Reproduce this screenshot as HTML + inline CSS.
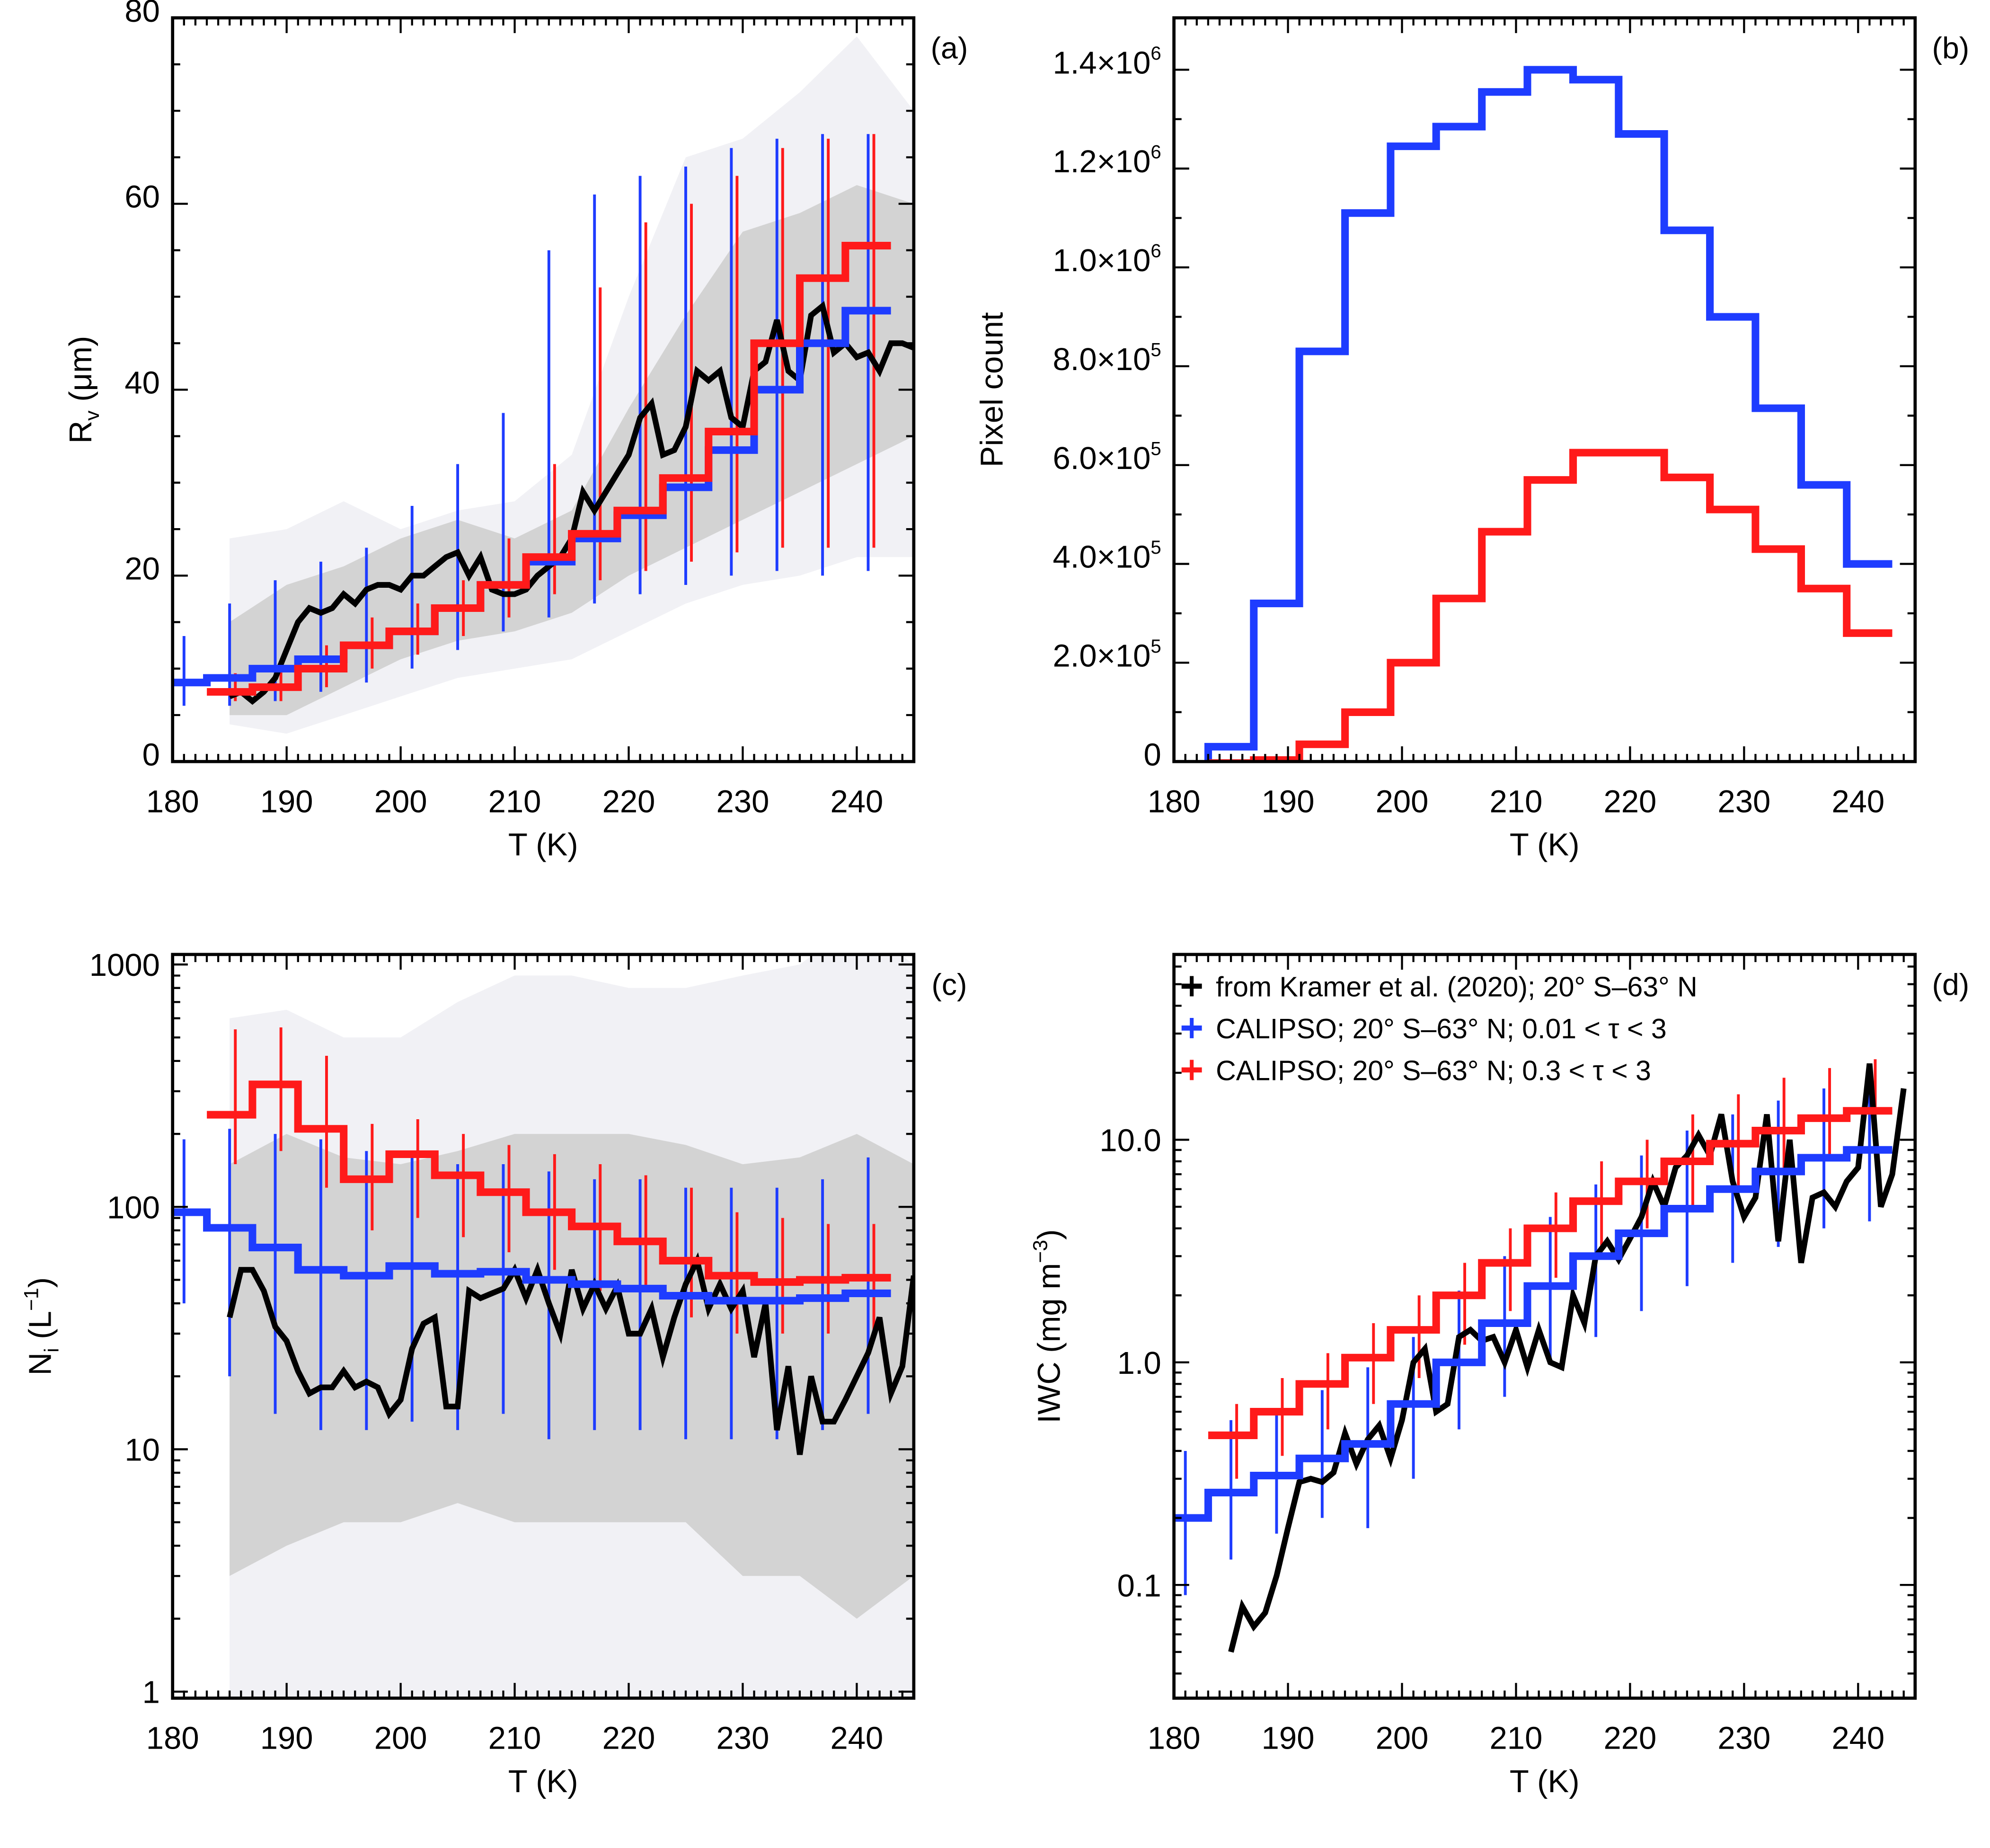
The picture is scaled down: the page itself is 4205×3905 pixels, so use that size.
<!DOCTYPE html>
<html><head><meta charset="utf-8">
<style>
html,body{margin:0;padding:0;background:#fff;}
svg{display:block;}
text{font-family:"Liberation Sans",sans-serif;fill:#000;}
</style></head>
<body>
<svg id="fig" width="4205" height="3905" viewBox="0 0 1568 1456" xmlns="http://www.w3.org/2000/svg">
<rect x="0" y="0" width="1568" height="1456" fill="#fff"/>
</svg>
<script>
// ---------- DATA ----------
const binT = [181,185,189,193,197,201,205,209,213,217,221,225,229,233,237,241];
const lineT = [];
for (let t = 185; t <= 245; t++) lineT.push(t);
const bandT = [185,190,195,200,205,210,215,220,225,230,235,240,245];

// Panel a
const aBlue = [8.5,9,10,11,12.5,14,16.5,19,21.5,24,26.5,29.5,33.5,40,45,48.5];
const aBlueLo = [6,6,6.5,7.5,8.5,10,12,14,15.5,17,18,19,20,20.5,20,20.5];
const aBlueHi = [13.5,17,19.5,21.5,23,27.5,32,37.5,55,61,63,64,66,67,67.5,67.5];
const aRed = [null,7.5,8,10,12.5,14,16.5,19,22,24.5,27,30.5,35.5,45,52,55.5];
const aRedLo = [null,6.5,6.5,8,10,11.5,13.5,15.5,18,19.5,20.5,21.5,22.5,23,23,23];
const aRedHi = [null,9.5,10.5,12.5,15.5,17,19.5,24,32,51,58,60,63,66,67,67.5];
const aBlack = [7,7.5,6.5,7.5,9,12,15,16.5,16,16.5,18,17,18.5,19,19,18.5,20,20,21,22,22.5,20,22,18.5,18,18,18.5,20,21,22,24,29,27,29,31,33,37,38.5,33,33.5,36,42,41,42,37,36,42,43,47.5,42,41,48,49,44,45,43.5,44,42,45,45,44.5];
const aOutLo = [4,3,5,7,9,10,11,14,17,19,20,22,22];
const aOutHi = [24,25,28,25,27,28,33,50,65,67,72,78,70];
const aInLo = [5,5,8,11,13,14,16,20,23,26,29,32,35];
const aInHi = [15,19,21,24,26,24,27,38,48,57,59,62,60];

// Panel b
const bBlue = [-5000,30000,320000,830000,1110000,1245000,1285000,1355000,1400000,1380000,1270000,1075000,900000,715000,560000,400000];
const bRed = [null,-3000,3000,35000,100000,200000,330000,465000,570000,625000,625000,575000,510000,430000,350000,260000];

// Panel c
const cBlue = [95,82,68,55,52,57,53,54,50,48,46,43,41,41,42,44];
const cBlueLo = [40,20,14,12,12,13,12,14,11,12,12,11,11,11,12,14];
const cBlueHi = [190,210,200,190,170,170,150,150,140,130,130,120,120,120,130,160];
const cRed = [null,240,320,210,130,165,135,115,95,83,72,60,52,49,50,51];
const cRedLo = [null,150,170,120,80,90,75,65,55,45,45,35,30,30,30,30];
const cRedHi = [null,540,550,420,220,230,200,180,165,150,135,120,95,90,85,85];
const cBlack = [35,55,55,45,32,28,21,17,18,18,21,18,19,18,14,16,26,33,35,15,15,45,42,44,46,55,42,55,40,30,55,38,48,38,47,30,30,38,24,35,48,60,38,48,38,45,24,40,12,22,9.5,20,13,13,16,20,25,35,17,22,52];
const cOutLo = [0.5,0.6,0.8,0.9,0.9,0.9,0.9,0.9,0.8,0.6,0.5,0.5,0.5];
const cOutHi = [600,650,500,500,700,900,900,800,800,900,1000,1500,1000];
const cInLo = [3,4,5,5,6,5,5,5,5,3,3,2,3];
const cInHi = [150,200,160,150,170,200,200,200,180,150,160,200,150];

// Panel d
const dBlue = [0.2,0.26,0.31,0.37,0.43,0.65,1.0,1.5,2.2,3.0,3.8,4.9,6.0,7.2,8.3,9.0];
const dBlueLo = [0.09,0.13,0.17,0.2,0.18,0.3,0.5,0.7,1.0,1.3,1.7,2.2,2.8,3.3,4.0,4.3];
const dBlueHi = [0.4,0.55,0.6,0.75,0.95,1.3,2.1,3.0,4.5,6.3,8.5,11,13,15,17,20];
const dRed = [null,0.47,0.6,0.8,1.05,1.4,2.0,2.8,4.0,5.3,6.5,8.0,9.6,11,12.5,13.5];
const dRedLo = [null,0.3,0.38,0.5,0.65,0.85,1.2,1.7,2.4,3.2,4.0,5.0,6.0,7.0,8.0,9.0];
const dRedHi = [null,0.65,0.85,1.1,1.5,2.0,2.8,4.0,5.8,8.0,10,13,16,19,21,23];
const dBlack = [0.05,0.08,0.065,0.075,0.11,0.18,0.29,0.3,0.29,0.32,0.48,0.35,0.45,0.52,0.37,0.55,1.0,1.15,0.6,0.65,1.3,1.4,1.25,1.3,1.0,1.4,0.95,1.4,1.0,0.95,2.0,1.5,3.0,3.5,2.9,3.6,4.5,6.5,5.0,7.5,8.5,10.5,8.5,13,6.5,4.5,5.5,13,3.5,10,2.8,5.5,5.8,5.0,6.5,7.5,22,5.0,7.0,17];

const aTicks = [0,20,40,60,80];
const bTicks = [0,200000,400000,600000,800000,1000000,1200000,1400000];
const bTickLabels = ['0','2.0×10^5','4.0×10^5','6.0×10^5','8.0×10^5','1.0×10^6','1.2×10^6','1.4×10^6'];
const cTicks = [1,10,100,1000];
const cTickLabels = ['1','10','100','1000'];
const dTicks = [0.1,1,10];
const dTickLabels = ['0.1','1.0','10.0'];
const xTicks = [180,190,200,210,220,230,240];

// ---------- DRAWING ----------
const NS = 'http://www.w3.org/2000/svg';
const svg = document.getElementById('fig');
function el(tag, attrs, parent) {
  const e = document.createElementNS(NS, tag);
  for (const k in attrs) e.setAttribute(k, attrs[k]);
  (parent || svg).appendChild(e);
  return e;
}
function makePanel(id, x0, y0, ylin, ymin, ymax) {
  const x1 = x0 + 584, y1 = y0 + 586;
  const X = t => x0 + (t - 180) / 65 * 584;
  let Y;
  if (ylin) Y = v => y1 - (v - ymin) / (ymax - ymin) * 586;
  else Y = v => y1 - (Math.log10(v) - Math.log10(ymin)) / (Math.log10(ymax) - Math.log10(ymin)) * 586;
  const g = el('g', {});
  
  
  const cp = el('clipPath', {id: 'clip-' + id}, g);
  el('rect', {x: x0, y: y0, width: 584, height: 586}, cp);
  const plot = el('g', {'clip-path': 'url(#clip-' + id + ')'}, g);
  
  
  return {x0, y0, x1, y1, X, Y, g, plot};
}
function band(p, lo, hi, fill, name) {
  let d = '';
  bandT.forEach((t, i) => { d += (i ? 'L' : 'M') + p.X(t).toFixed(1) + ',' + p.Y(hi[i]).toFixed(1); });
  for (let i = bandT.length - 1; i >= 0; i--) d += 'L' + p.X(bandT[i]).toFixed(1) + ',' + p.Y(lo[i]).toFixed(1);
  const e = el('path', {d: d + 'Z', fill: fill, stroke: 'none'}, p.plot);
  
  
}
function steps(p, vals, color, name, w) {
  let d = '';
  let started = false;
  binT.forEach((t, i) => {
    const v = vals[i];
    if (v === null) return;
    const xa = p.X(Math.max(180, t - 2)), xb = p.X(t + 2), y = p.Y(v);
    d += (started ? 'L' : 'M') + xa.toFixed(1) + ',' + y.toFixed(1) + 'L' + xb.toFixed(1) + ',' + y.toFixed(1);
    started = true;
  });
  const e = el('path', {d: d, fill: 'none', stroke: color, 'stroke-width': w || 6}, p.plot);
  
  
}
function errbars(p, lo, hi, color, off, name) {
  binT.forEach((t, i) => {
    if (lo[i] === null) return;
    const x = p.X(t + off);
    const e = el('line', {x1: x, x2: x, y1: p.Y(lo[i]), y2: p.Y(hi[i]), stroke: color, 'stroke-width': 2.2}, p.plot);
    
    
  });
}
function blackLine(p, vals, name) {
  const d = lineT.map((t, i) => (i ? 'L' : 'M') + p.X(t).toFixed(1) + ',' + p.Y(vals[i]).toFixed(1)).join('');
  const e = el('path', {d: d, fill: 'none', stroke: '#000', 'stroke-width': 4.5, 'stroke-linejoin': 'miter'}, p.plot);
  
  
}
function frame(p, id) {
  const r = el('rect', {x: p.x0, y: p.y0, width: 584, height: 586, fill: 'none', stroke: '#000', 'stroke-width': 2.5}, p.g);
  
  
  for (let t = 181; t <= 245; t++) {
    const x = p.X(t);
    const major = t % 10 === 0;
    const L = major ? 12 : 6;
    el('line', {x1: x, x2: x, y1: p.y1, y2: p.y1 - L, stroke: '#000', 'stroke-width': 1.6}, p.g);
    el('line', {x1: x, x2: x, y1: p.y0, y2: p.y0 + L, stroke: '#000', 'stroke-width': 1.6}, p.g);
  }
  xTicks.forEach(t => {
    const tx = el('text', {x: p.X(t), y: p.y1 + 40, 'font-size': 25, 'text-anchor': 'middle'}, p.g);
    tx.textContent = t;
    
    
  });
  const xt = el('text', {x: p.x0 + 292, y: p.y1 + 74, 'font-size': 25, 'text-anchor': 'middle'}, p.g);
  xt.textContent = 'T (K)';
  
  
  const pl = el('text', {x: p.x1 + 28, y: p.y0 + 32, 'font-size': 24, 'text-anchor': 'middle'}, p.g);
  pl.textContent = '(' + id + ')';
  
  
}
function ytick(p, y, major) {
  const L = major ? 12 : 6;
  el('line', {x1: p.x0, x2: p.x0 + L, y1: y, y2: y, stroke: '#000', 'stroke-width': 1.6}, p.g);
  el('line', {x1: p.x1, x2: p.x1 - L, y1: y, y2: y, stroke: '#000', 'stroke-width': 1.6}, p.g);
}
function ylabel(p, y, txt) {
  const t = el('text', {x: p.x0 - 10, y: y + 9, 'font-size': 25, 'text-anchor': 'end'}, p.g);
  const m = txt.match(/^(.*)\^(.*)$/);
  if (m) {
    t.textContent = m[1];
    const s = el('tspan', {dy: -11, 'font-size': 15}, t);
    s.textContent = m[2];
  } else t.textContent = txt;
  
  
}
function logTicks(p, lo, hi) {
  for (let e = Math.floor(Math.log10(lo)); e <= Math.ceil(Math.log10(hi)); e++) {
    for (let k = 1; k <= 9; k++) {
      const v = k * Math.pow(10, e);
      if (v < lo || v > hi) continue;
      ytick(p, p.Y(v), k === 1);
    }
  }
}
function ytitle(p, x, parts, name) {
  const t = el('text', {x: 0, y: 0, 'font-size': 25, 'text-anchor': 'middle', transform: 'translate(' + x + ',' + (p.y0 + 293) + ') rotate(-90)'}, p.g);
  parts.forEach(pt => {
    const s = el('tspan', pt.a || {}, t);
    s.textContent = pt.t;
  });
  
  
}

// ----- Panel a -----
const pa = makePanel('a', 136, 14, true, 0, 80);
band(pa, aOutLo, aOutHi, '#f1f1f5', 'outer-range-band');
band(pa, aInLo, aInHi, '#d3d3d3', 'inner-range-band');
errbars(pa, aBlueLo, aBlueHi, '#1e3cff', 0, 'blue-error-bar');
errbars(pa, aRedLo, aRedHi, '#ff1a1a', 0.5, 'red-error-bar');
blackLine(pa, aBlack, 'kramer-line');
steps(pa, aBlue, '#1e3cff', 'calipso-blue-steps');
steps(pa, aRed, '#ff1a1a', 'calipso-red-steps');
frame(pa, 'a');
for (let v = 5; v < 80; v += 5) ytick(pa, pa.Y(v), v % 20 === 0);
aTicks.forEach(v => ylabel(pa, pa.Y(v) - 6, String(v)));
ytitle(pa, 72, [{t: 'R'}, {t: 'v', a: {'font-size': 16, dy: 6}}, {t: ' (μm)', a: {dy: -6}}], 'y-axis-title');

// ----- Panel b -----
const pb = makePanel('b', 925, 14, true, 0, 1505000);
steps(pb, bBlue, '#1e3cff', 'blue-histogram');
steps(pb, bRed, '#ff1a1a', 'red-histogram');
frame(pb, 'b');
for (let v = 100000; v < 1500000; v += 100000) ytick(pb, pb.Y(v), v % 200000 === 0);
bTicks.forEach((v, i) => ylabel(pb, pb.Y(v) - 6, bTickLabels[i]));
ytitle(pb, 790, [{t: 'Pixel count'}], 'y-axis-title');

// ----- Panel c -----
const pc = makePanel('c', 136, 752, false, 0.94, 1100);
band(pc, cOutLo, cOutHi, '#f1f1f5', 'outer-range-band');
band(pc, cInLo, cInHi, '#d3d3d3', 'inner-range-band');
errbars(pc, cBlueLo, cBlueHi, '#1e3cff', 0, 'blue-error-bar');
errbars(pc, cRedLo, cRedHi, '#ff1a1a', 0.5, 'red-error-bar');
blackLine(pc, cBlack, 'kramer-line');
steps(pc, cBlue, '#1e3cff', 'calipso-blue-steps');
steps(pc, cRed, '#ff1a1a', 'calipso-red-steps');
frame(pc, 'c');
logTicks(pc, 1, 1000);
cTicks.forEach((v, i) => ylabel(pc, pc.Y(v), cTickLabels[i]));
ytitle(pc, 40, [{t: 'N'}, {t: 'i', a: {'font-size': 16, dy: 6}}, {t: ' (L', a: {dy: -6}}, {t: '−1', a: {'font-size': 16, dy: -10}}, {t: ')', a: {dy: 10}}], 'y-axis-title');

// ----- Panel d -----
const pd = makePanel('d', 925, 752, false, 0.031, 68);
errbars(pd, dBlueLo, dBlueHi, '#1e3cff', 0, 'blue-error-bar');
errbars(pd, dRedLo, dRedHi, '#ff1a1a', 0.5, 'red-error-bar');
blackLine(pd, dBlack, 'kramer-line');
steps(pd, dBlue, '#1e3cff', 'calipso-blue-steps');
steps(pd, dRed, '#ff1a1a', 'calipso-red-steps');
frame(pd, 'd');
logTicks(pd, 0.031, 68);
dTicks.forEach((v, i) => ylabel(pd, pd.Y(v), dTickLabels[i]));
ytitle(pd, 835, [{t: 'IWC (mg m'}, {t: '−3', a: {'font-size': 16, dy: -10}}, {t: ')', a: {dy: 10}}], 'y-axis-title');

// legend
const legItems = [['#000', 'from Kramer et al. (2020); 20° S–63° N'], ['#1e3cff', 'CALIPSO; 20° S–63° N; 0.01 < τ < 3'], ['#ff1a1a', 'CALIPSO; 20° S–63° N; 0.3 < τ < 3']];
const leg = el('g', {});


legItems.forEach((it, i) => {
  const y = 777 + i * 33;
  const ge = el('g', {}, leg);
  
  
  el('line', {x1: 931, x2: 947, y1: y, y2: y, stroke: it[0], 'stroke-width': 4}, ge);
  el('line', {x1: 939, x2: 939, y1: y - 8, y2: y + 8, stroke: it[0], 'stroke-width': 3}, ge);
  const t = el('text', {x: 958, y: y + 8, 'font-size': 22}, ge);
  t.textContent = it[1];
});
</script>
</body></html>
